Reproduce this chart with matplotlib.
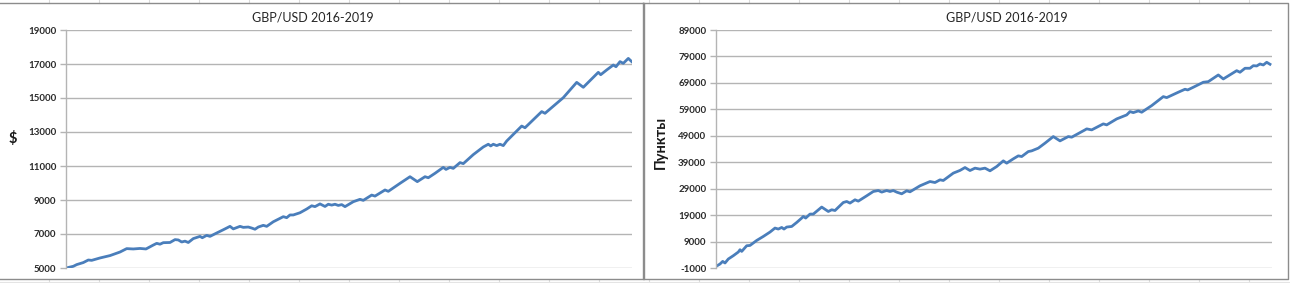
import matplotlib
matplotlib.use("Agg")
import matplotlib.pyplot as plt
from matplotlib.lines import Line2D

plt.rcParams['font.family'] = ['Lato', 'DejaVu Sans']

# ---- data: left chart (balance, $) ----
left_x = [0, 7.3, 10.7, 17.3, 22.3, 25.7, 34, 44, 54, 60.7, 67.3, 74, 80, 87.3, 90.7, 94, 97.3,
          104, 109, 112.3, 115.7, 119, 122.3, 127.3, 134, 136.3, 140.7, 144, 150.7, 157.3, 164,
          167.3, 174, 177.3, 182.3, 185.7, 189, 192.3, 197.3, 200.7, 207.3, 214, 217.3, 220.7,
          224, 227.3, 234, 240.7, 245.7, 249, 254, 259, 262.3, 265.7, 269, 272.3, 275.7, 279,
          287.3, 294, 297.3, 305.7, 309, 319, 322.3, 334, 344, 351.3, 359, 362.3, 369, 377.3,
          380, 384, 387.3, 394, 397.3, 407.3, 417.3, 422.3, 424.7, 427.3, 430.7, 434, 437.3,
          440.7, 455.7, 459, 475.7, 479, 497.3, 510.7, 517.3, 532.3, 534.7, 540.7, 547.3, 550,
          554, 557.3, 562.3, 565.7]
left_y = [5000, 5100, 5200, 5320, 5470, 5450, 5590, 5730, 5940, 6140, 6120, 6150, 6120, 6350,
          6450, 6400, 6490, 6500, 6670, 6650, 6530, 6580, 6500, 6730, 6860, 6780, 6920, 6860,
          7060, 7250, 7450, 7300, 7450, 7390, 7410, 7350, 7280, 7410, 7510, 7450, 7720, 7920,
          8020, 7960, 8120, 8120, 8250, 8470, 8660, 8610, 8770, 8620, 8750, 8700, 8750, 8680,
          8730, 8610, 8900, 9040, 8980, 9290, 9230, 9590, 9510, 9980, 10370, 10080, 10370,
          10310, 10570, 10920, 10800, 10920, 10860, 11200, 11140, 11670, 12120, 12280, 12180,
          12280, 12200, 12280, 12200, 12470, 13350, 13250, 14200, 14100, 15020, 15920, 15630,
          16510, 16370, 16650, 16940, 16840, 17140, 17040, 17330, 17140]

# ---- data: right chart (points) ----
right_x = [0, 4, 6.7, 9, 12.3, 17.3, 22.3, 24, 25.7, 30.7, 34, 40.7, 47.3, 54, 59, 62.3, 65.7,
           68, 70.7, 75.7, 80.7, 85.7, 87.3, 89.7, 94, 97.3, 105.7, 112.3, 115.7, 119, 127.3,
           130.7, 134, 139, 142.3, 150.7, 157.3, 162.3, 165.7, 170.7, 174, 177.3, 180.7, 185.7,
           190.7, 194, 204, 214, 219, 224, 227.3, 237.3, 244, 249, 254, 259, 264, 269, 274,
           280.7, 287.3, 290.7, 297.3, 302.3, 305.7, 312.3, 315.7, 322.3, 329, 337.3, 344,
           352.3, 355.7, 369, 370.7, 375.7, 387.3, 390.7, 400.7, 410.7, 414, 417.3, 422.3,
           425.7, 435.7, 447.3, 450.7, 462.3, 469, 471.7, 477.3, 487.3, 492.3, 502.3, 507.3,
           520.7, 524, 529, 534, 537.3, 540.7, 544, 547.3, 550.7, 554]
right_y = [-400, 510, 1500, 890, 2400, 3650, 5040, 5910, 5270, 7420, 7530, 9420, 10930, 12590,
           14100, 13730, 14330, 13730, 14480, 14710, 16220, 17880, 18490, 17880, 19390, 19390,
           22040, 20370, 21020, 20740, 23770, 24150, 23550, 24790, 24290, 26300, 27930, 28300,
           27700, 28300, 27930, 28300, 27690, 27060, 28190, 27810, 30080, 31700, 31320, 32340,
           32090, 34880, 35900, 36990, 35860, 36760, 36390, 36760, 35750, 37370, 39520, 38650,
           40280, 41410, 41150, 43030, 43300, 44320, 46210, 48700, 47070, 48700, 48470, 51230,
           51610, 51230, 53500, 53120, 55380, 56890, 58140, 57760, 58400, 57910, 60410, 63810,
           63430, 65470, 66600, 66330, 67350, 69240, 69470, 72000, 70490, 73620, 73020, 74530,
           74530, 75510, 75400, 76150, 75780, 76790, 76040]

title = "GBP/USD 2016-2019"
left_ylabel = "$"
right_ylabel = "Пункты"
left_ticks = [5000, 7000, 9000, 11000, 13000, 15000, 17000, 19000]
right_ticks = [-1000, 9000, 19000, 29000, 39000, 49000, 59000, 69000, 79000, 89000]

W, H = 1290, 283
fig = plt.figure(figsize=(W / 100, H / 100), dpi=100)
fig.patch.set_facecolor('white')

def fx(px):
    return px / W

def fy(py):
    return 1 - py / H

# spreadsheet cell lines peeking at top and bottom
for cx in range(49, W, 50):
    for (a, b) in [(0, 3), (280, 283)]:
        fig.add_artist(Line2D([fx(cx), fx(cx)], [fy(a), fy(b)], color='#dcdcdc', lw=0.8))
fig.add_artist(Line2D([0, 1], [fy(281.5), fy(281.5)], color='#e4e4e4', lw=0.8))

# chart borders
border = '#8c8c8c'
def rect(x0, y0, x1, y1):
    xs = [fx(x0), fx(x1), fx(x1), fx(x0), fx(x0)]
    ys = [fy(y0), fy(y0), fy(y1), fy(y1), fy(y0)]
    fig.add_artist(Line2D(xs, ys, color=border, lw=1.0))

rect(-2, 3, 644, 279)
rect(643, 3, 1288, 279)

LINE_COLOR = '#4a7ebb'
GRID = '#b4b4b4'

def make_axes(px0, px1, xs, ys, ticks, xmax):
    ax = fig.add_axes([fx(px0), fy(268), fx(px1) - fx(px0), fy(30) - fy(268)])
    ax.set_facecolor('none')
    ax.plot(xs, ys, color=LINE_COLOR, lw=2.0, solid_joinstyle='round')
    ax.set_xlim(0, xmax)
    ax.set_ylim(ticks[0], ticks[-1])
    ax.set_yticks(ticks)
    ax.set_yticklabels([str(t) for t in ticks])
    ax.set_xticks([])
    for s in ['top', 'right', 'bottom']:
        ax.spines[s].set_visible(False)
    ax.spines['left'].set_color(GRID)
    ax.spines['left'].set_linewidth(1.0)
    ax.grid(axis='y', color=GRID, lw=1.0)
    ax.set_axisbelow(True)
    ax.tick_params(axis='y', length=4, width=1.0, color=GRID, pad=3,
                   labelsize=7, labelcolor='#2a2a2a')
    for lab in ax.get_yticklabels():
        lab.set_fontweight('bold')
    return ax

axL = make_axes(66, 632, left_x, left_y, left_ticks, 566)
axR = make_axes(716, 1272, right_x, right_y, right_ticks, 556)

fig.text(fx(313), fy(17), title, ha='center', va='center', fontsize=9, color='#262626')
fig.text(fx(1007), fy(17), title, ha='center', va='center', fontsize=9, color='#262626')
fig.text(fx(13), fy(139), left_ylabel, ha='center', va='center', fontsize=10.5,
         fontweight='bold', color='#1a1a1a')
fig.text(fx(661), fy(142), right_ylabel, ha='center', va='center', fontsize=10.5,
         fontweight='bold', color='#1a1a1a', rotation=90)

fig.savefig('out.png', dpi=100, facecolor='white')
